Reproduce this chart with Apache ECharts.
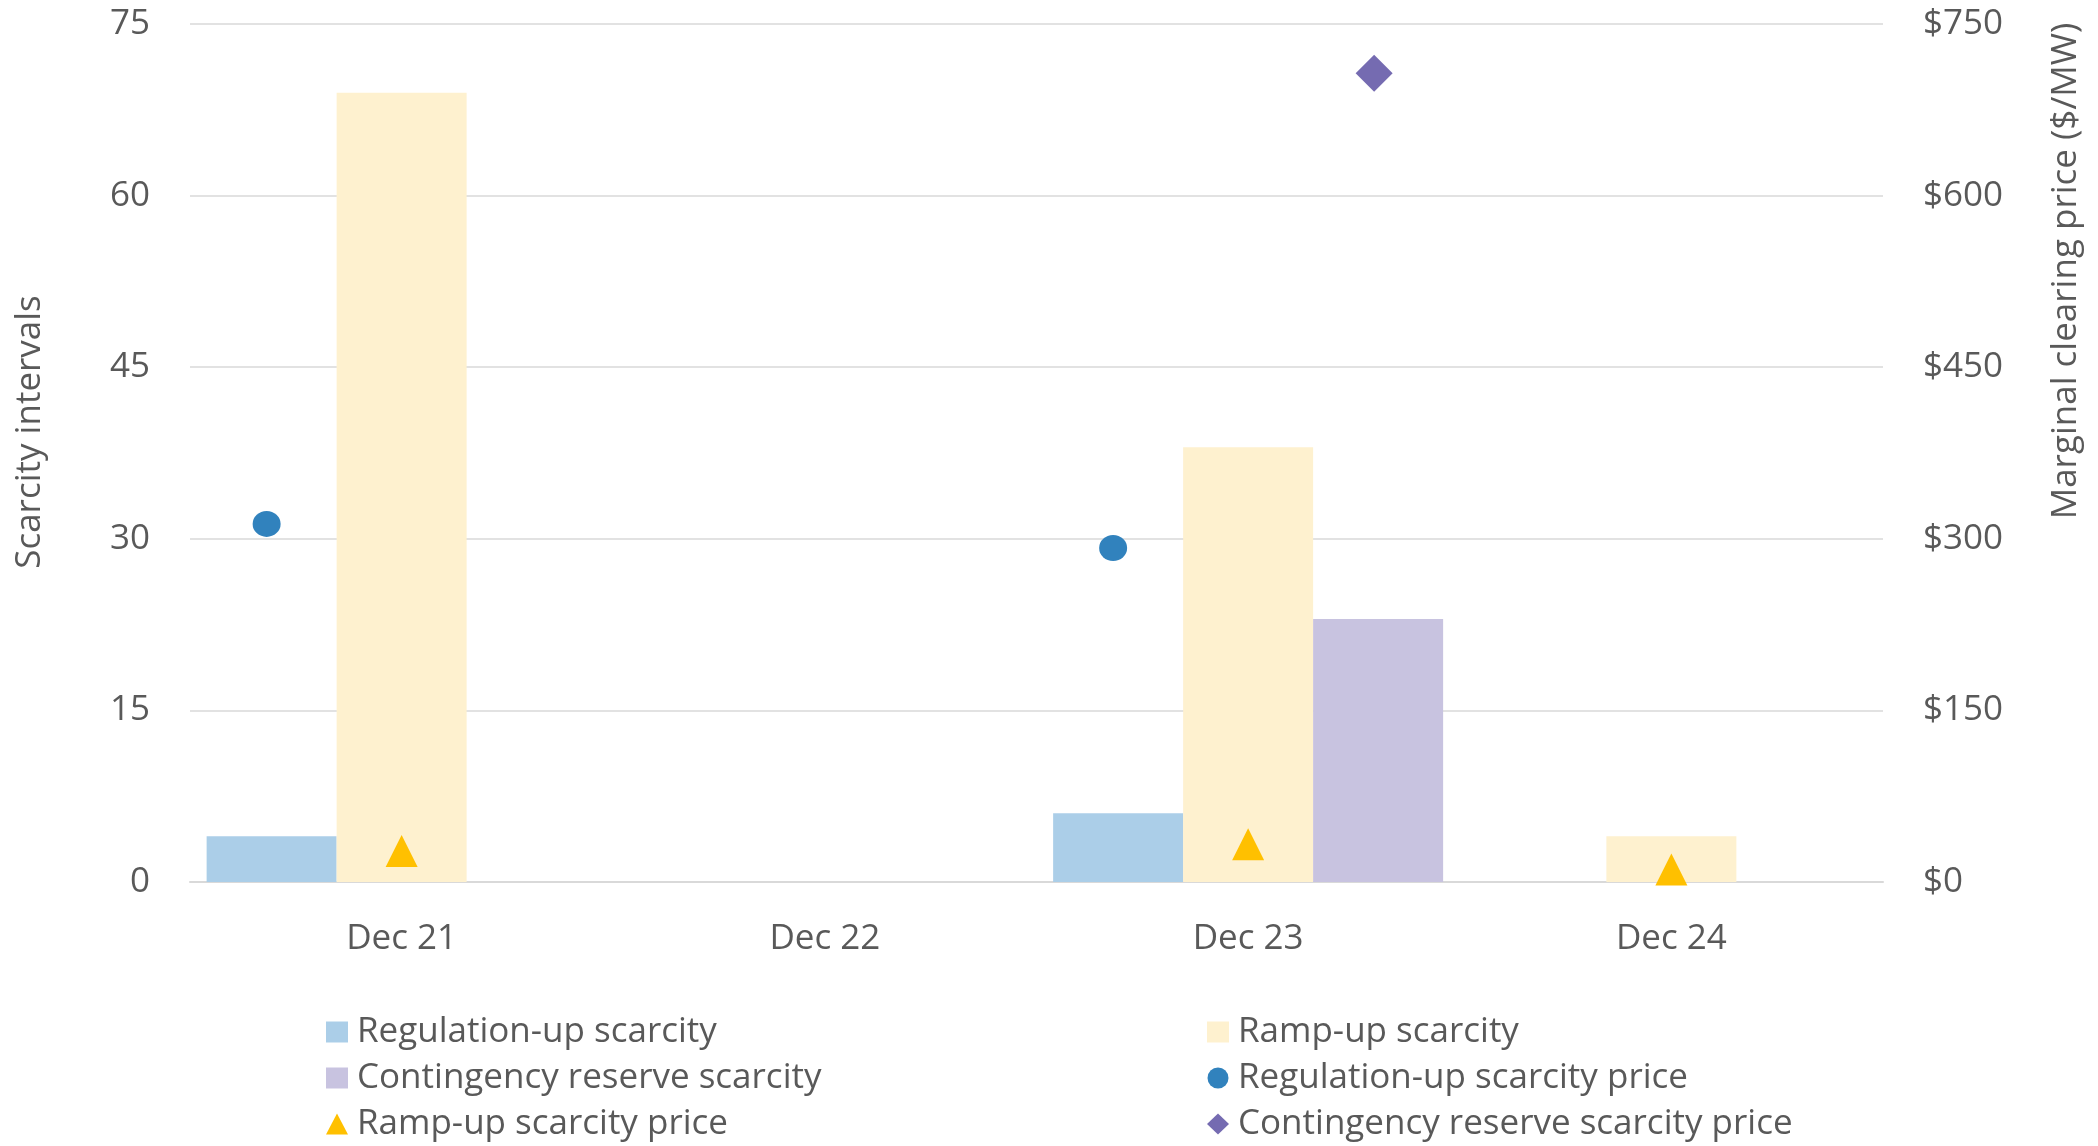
<!DOCTYPE html>
<html>
<head>
<meta charset="utf-8">
<script src="https://cdn.jsdelivr.net/npm/echarts@6/dist/echarts.min.js"></script>
<style>
html,body{margin:0;padding:0;background:#fff;}
#chart{width:2098px;height:1146px;}
</style>
</head>
<body>
<div id="chart"></div>
<script>
const categories = ['Dec 21', 'Dec 22', 'Dec 23', 'Dec 24'];
const regUpScarcity = [4, 0, 6, 0];
const rampUpScarcity = [69, 0, 38, 4];
const contingencyScarcity = [0, 0, 23, 0];
const regUpPrice = [313, '-', 292, '-'];
const rampUpPrice = [27, '-', 33, 11];
const contingencyPrice = ['-', '-', 707, '-'];
const leftTicks = {min: 0, max: 75, interval: 15};
const rightTicks = {min: 0, max: 750, interval: 150};

const FONT = '"Open Sans", "Noto Sans", sans-serif';
const TXT = '#595959';
const BAR_W = 130;

const chart = echarts.init(document.getElementById('chart'));
const legendText = {color: TXT, fontSize: 35, fontFamily: FONT, lineHeight: 40, padding: [0, 0, 0, 4]};
chart.setOption({
  animation: false,
  textStyle: {fontFamily: FONT},
  grid: {left: 190, right: 215, top: 24, bottom: 264, containLabel: false},
  legend: [
    {
      orient: 'vertical', left: 321, top: 1007, height: 139, itemWidth: 22, itemHeight: 21, itemGap: 6,
      textStyle: legendText, selectedMode: false,
      data: [
        {name: 'Regulation-up scarcity', icon: 'rect'},
        {name: 'Contingency reserve scarcity', icon: 'rect'},
        {name: 'Ramp-up scarcity price', icon: 'triangle'}
      ]
    },
    {
      orient: 'vertical', left: 1202, top: 1007, height: 139, itemWidth: 22, itemHeight: 21, itemGap: 6,
      textStyle: legendText, selectedMode: false,
      data: [
        {name: 'Ramp-up scarcity', icon: 'rect'},
        {name: 'Regulation-up scarcity price', icon: 'circle'},
        {name: 'Contingency reserve scarcity price', icon: 'diamond'}
      ]
    }
  ],
  xAxis: {
    type: 'category', data: categories,
    axisLine: {lineStyle: {color: '#D9D9D9', width: 2}},
    axisTick: {show: false},
    axisLabel: {color: TXT, fontSize: 35, fontFamily: FONT, margin: 40}
  },
  yAxis: [
    {
      type: 'value', min: leftTicks.min, max: leftTicks.max, interval: leftTicks.interval,
      name: 'Scarcity intervals', nameLocation: 'middle', nameGap: 142, nameRotate: 90,
      nameMoveOverlap: false,
      nameTextStyle: {color: TXT, fontSize: 35, fontFamily: FONT, padding: [0, 0, 0, 42]},
      axisLine: {show: false}, axisTick: {show: false},
      axisLabel: {color: TXT, fontSize: 35, fontFamily: FONT, margin: 40},
      splitLine: {lineStyle: {color: '#D9D9D9', width: 1.5}}
    },
    {
      type: 'value', min: rightTicks.min, max: rightTicks.max, interval: rightTicks.interval,
      name: 'Marginal clearing price ($/MW)', nameLocation: 'middle', nameGap: 166, nameRotate: 90,
      nameMoveOverlap: false,
      nameTextStyle: {color: TXT, fontSize: 35, fontFamily: FONT, padding: [0, 0, 0, 364]},
      axisLine: {show: false}, axisTick: {show: false},
      axisLabel: {color: TXT, fontSize: 35, fontFamily: FONT, margin: 40, formatter: v => '$' + v},
      splitLine: {show: false}
    }
  ],
  series: [
    {name: 'Regulation-up scarcity', type: 'bar', data: regUpScarcity, barWidth: BAR_W, barGap: '0%',
     itemStyle: {color: '#ABCEE8'}},
    {name: 'Ramp-up scarcity', type: 'bar', data: rampUpScarcity, barWidth: BAR_W, barGap: '0%',
     itemStyle: {color: '#FEF1CF'}},
    {name: 'Contingency reserve scarcity', type: 'bar', data: contingencyScarcity, barWidth: BAR_W, barGap: '0%',
     itemStyle: {color: '#C8C3E0'}},
    {name: 'Regulation-up scarcity price', type: 'scatter', yAxisIndex: 1, data: regUpPrice,
     symbol: 'circle', symbolSize: [28, 26], symbolOffset: [-BAR_W - 5, 0], itemStyle: {color: '#3182BD', opacity: 1}},
    {name: 'Ramp-up scarcity price', type: 'scatter', yAxisIndex: 1, data: rampUpPrice,
     symbol: 'triangle', symbolSize: 32, symbolOffset: [0, 0], itemStyle: {color: '#FFC000', opacity: 1}},
    {name: 'Contingency reserve scarcity price', type: 'scatter', yAxisIndex: 1, data: contingencyPrice,
     symbol: 'diamond', symbolSize: 37, symbolOffset: [BAR_W - 4, 0], itemStyle: {color: '#756BB1', opacity: 1}}
  ]
});
</script>
</body>
</html>
